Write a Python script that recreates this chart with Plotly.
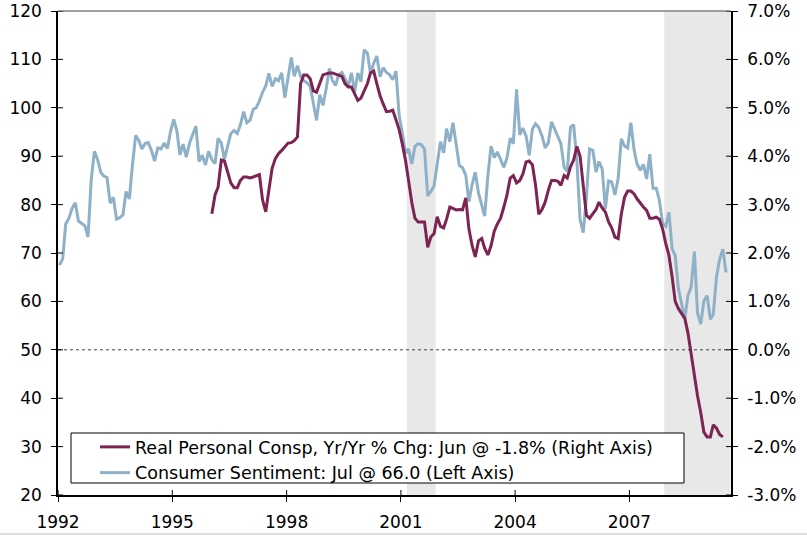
import plotly.graph_objects as go

# ---------------- data ----------------
sent_start = (1992, 1)
sentiment = [
    67.5, 68.8, 76.0, 77.2, 79.2, 80.4, 76.6, 76.1, 75.6, 73.3, 85.3, 91.0,
    89.3, 86.6, 85.9, 85.6, 80.3, 81.5, 77.0, 77.3, 77.9, 82.7, 81.2, 88.2,
    94.3, 93.2, 91.5, 92.6, 92.8, 91.2, 89.0, 91.7, 91.5, 92.7, 91.6, 95.1,
    97.6, 95.1, 90.3, 92.5, 89.8, 92.7, 94.4, 96.2, 88.9, 90.2, 88.2, 91.0,
    89.3, 88.5, 93.7, 92.7, 89.4, 92.4, 94.7, 95.3, 94.7, 96.5, 99.2, 96.9,
    97.4, 99.7, 100.0, 101.4, 103.2, 104.5, 107.1, 104.4, 106.0, 105.6, 107.2, 102.1,
    106.6, 110.4, 106.5, 108.7, 106.5, 105.6, 105.2, 104.4, 100.9, 97.4, 102.7, 100.5,
    103.9, 108.1, 105.7, 104.6, 106.8, 107.3, 106.0, 104.5, 107.2, 103.2, 107.2, 105.4,
    112.0, 111.3, 107.1, 109.2, 110.7, 106.4, 108.3, 107.3, 106.8, 105.8, 107.6, 98.4,
    94.7, 90.6, 91.5, 88.4, 92.0, 92.6, 92.4, 91.5, 81.8, 82.7, 83.9, 88.8,
    93.0, 90.7, 95.7, 93.0, 96.9, 92.4, 88.1, 87.6, 86.1, 80.6, 84.2, 86.7,
    82.4, 79.9, 77.6, 86.0, 92.1, 89.7, 90.9, 89.3, 87.7, 89.6, 93.7, 92.6,
    103.8, 94.4, 95.8, 94.2, 90.2, 95.6, 96.7, 95.9, 94.2, 91.7, 92.8, 97.1,
    95.5, 94.1, 92.6, 87.7, 86.9, 96.0, 96.5, 89.1, 76.9, 74.2, 81.6, 91.5,
    91.2, 86.7, 88.9, 87.4, 79.1, 84.9, 84.7, 82.0, 85.4, 93.6, 92.1, 91.7,
    96.9, 91.3, 88.4, 87.1, 88.3, 85.3, 90.4, 83.4, 83.4, 80.9, 76.1, 75.5,
    78.4, 70.8, 69.5, 62.6, 59.8, 56.4, 61.2, 63.0, 70.3, 57.6, 55.3, 60.1,
    61.2, 56.3, 57.3, 65.1, 68.7, 70.8, 66.0,
]

pce_start = (1996, 1)
pce_yoy = [
    2.81, 3.20, 3.36, 3.92, 3.90, 3.65, 3.45, 3.35, 3.35, 3.50, 3.57, 3.57,
    3.55, 3.57, 3.60, 3.62, 3.10, 2.85, 3.30, 3.75, 3.95, 4.05, 4.12, 4.20,
    4.27, 4.28, 4.32, 4.40, 5.50, 5.68, 5.68, 5.60, 5.35, 5.32, 5.50, 5.68,
    5.70, 5.72, 5.72, 5.70, 5.68, 5.65, 5.50, 5.43, 5.43, 5.30, 5.15, 5.20,
    5.35, 5.50, 5.72, 5.76, 5.50, 5.25, 5.08, 4.92, 4.93, 4.95, 4.75, 4.55,
    4.25, 3.90, 3.50, 3.05, 2.72, 2.64, 2.64, 2.64, 2.12, 2.33, 2.40, 2.75,
    2.55, 2.52, 2.70, 2.95, 2.92, 2.89, 2.90, 2.89, 3.14, 2.50, 2.15, 1.92,
    2.25, 2.30, 2.10, 1.96, 2.15, 2.45, 2.60, 2.72, 2.95, 3.20, 3.55, 3.60,
    3.45, 3.50, 3.63, 3.88, 3.90, 3.82, 3.40, 2.80, 2.90, 3.05, 3.30, 3.50,
    3.50, 3.48, 3.40, 3.60, 3.55, 3.78, 3.92, 4.20, 4.00, 3.40, 2.78, 2.72,
    2.80, 2.90, 3.05, 2.93, 2.85, 2.64, 2.52, 2.33, 2.30, 2.80, 3.15, 3.28,
    3.28, 3.22, 3.12, 3.02, 2.95, 2.88, 2.72, 2.72, 2.74, 2.70, 2.50, 2.20,
    1.95, 1.50, 1.00, 0.85, 0.75, 0.65, 0.35, -0.10, -0.55, -0.95, -1.30, -1.70,
    -1.80, -1.80, -1.55, -1.62, -1.75, -1.80,
]

recessions = [("2001-03-01", "2001-11-30"), ("2007-12-01", "2009-08-28")]
x_ticks = ["1992-01-01", "1995-01-01", "1998-01-01", "2001-01-01", "2004-01-01", "2007-01-01"]
x_ticktext = ["1992", "1995", "1998", "2001", "2004", "2007"]
left_ticks = [20, 30, 40, 50, 60, 70, 80, 90, 100, 110, 120]
right_ticks = [-3, -2, -1, 0, 1, 2, 3, 4, 5, 6, 7]
right_ticktext = [f"{v:.1f}%" for v in right_ticks]

name_pce = "Real Personal Consp, Yr/Yr % Chg: Jun @ -1.8% (Right Axis)"
name_sent = "Consumer Sentiment: Jul @ 66.0 (Left Axis)"


def month_dates(start, n):
    y, m = start
    out = []
    for i in range(n):
        mm = m - 1 + i
        out.append(f"{y + mm // 12:04d}-{mm % 12 + 1:02d}-15")
    return out


sent_x = month_dates(sent_start, len(sentiment))
pce_x = month_dates(pce_start, len(pce_yoy))

MAROON = "#7D2452"
BLUE = "#8EB1C8"
FONT = "DejaVu Sans, Verdana, sans-serif"

W, H = 807, 535
L, R, T, B = 58, 76, 11, 40
PW, PH = W - L - R, H - T - B


def px_x(p):
    return (p - L) / PW


def px_y(p):
    return (H - B - p) / PH


fig = go.Figure()

fig.add_trace(go.Scatter(x=pce_x, y=pce_yoy, name=name_pce, yaxis="y2",
                         mode="lines", line=dict(color=MAROON, width=3),
                         legendrank=1))
fig.add_trace(go.Scatter(x=sent_x, y=sentiment, name=name_sent, yaxis="y",
                         mode="lines", line=dict(color=BLUE, width=3),
                         legendrank=2))

shapes = []
for a, b in recessions:
    shapes.append(dict(type="rect", xref="x", yref="paper", x0=a, x1=b, y0=0, y1=1,
                       fillcolor="#E8E8E8", line=dict(width=0), layer="below"))
# zero line
shapes.append(dict(type="line", xref="paper", yref="y", x0=0, x1=1, y0=50, y1=50,
                   line=dict(color="#444444", width=1, dash="dot"), layer="above"))
# top border
shapes.append(dict(type="line", xref="paper", yref="paper", x0=0, x1=1, y0=1, y1=1,
                   line=dict(color="#808080", width=1.5)))
# inner parts of crossing ticks
tl = 5
for t in x_ticks:
    shapes.append(dict(type="line", xref="x", yref="paper", x0=t, x1=t,
                       y0=0, y1=tl / PH, line=dict(color="black", width=1)))
for v in left_ticks:
    shapes.append(dict(type="line", xref="paper", yref="y", x0=0, x1=tl / PW,
                       y0=v, y1=v, line=dict(color="black", width=1)))
for v in right_ticks:
    shapes.append(dict(type="line", xref="paper", yref="y2", x0=1 - tl / PW, x1=1,
                       y0=v, y1=v, line=dict(color="black", width=1)))
# legend box
shapes.append(dict(type="rect", xref="paper", yref="paper",
                   x0=px_x(71), x1=px_x(684), y0=px_y(483), y1=px_y(433),
                   fillcolor="white", line=dict(color="black", width=1), layer="above"))
# bottom frame line of the image
shapes.append(dict(type="line", xref="paper", yref="paper", x0=px_x(0), x1=px_x(W),
                   y0=px_y(534), y1=px_y(534), line=dict(color="#BBBBBB", width=1)))

fig.update_layout(
    width=W, height=H,
    margin=dict(l=L, r=R, t=T, b=B, autoexpand=False),
    paper_bgcolor="white", plot_bgcolor="white",
    font=dict(family=FONT, size=17, color="black"),
    showlegend=True,
    legend=dict(x=px_x(95), y=px_y(429), xanchor="left", yanchor="top",
                bgcolor="rgba(0,0,0,0)", borderwidth=0,
                font=dict(family=FONT, size=17.5, color="black"),
                traceorder="normal", tracegroupgap=0),
    xaxis=dict(type="date", range=["1992-01-01", "2009-09-01"],
               tickvals=x_ticks, ticktext=x_ticktext, automargin=False,
               ticklabeloverflow="allow",
               showline=True, linecolor="black", linewidth=1.5,
               ticks="outside", ticklen=tl, tickcolor="black",
               showgrid=False, zeroline=False, ticklabelstandoff=6),
    yaxis=dict(range=[20, 120], tickvals=left_ticks, automargin=False,
               ticklabeloverflow="allow",
               showline=True, linecolor="black", linewidth=1.5,
               ticks="outside", ticklen=tl, tickcolor="black",
               showgrid=False, zeroline=False, ticklabelstandoff=6),
    yaxis2=dict(range=[-3, 7], tickvals=right_ticks, ticktext=right_ticktext,
                overlaying="y", side="right", automargin=False,
                ticklabeloverflow="allow",
                showline=True, linecolor="black", linewidth=1.5,
                ticks="outside", ticklen=tl, tickcolor="black",
                showgrid=False, zeroline=False, ticklabelstandoff=6),
    shapes=shapes,
)

fig.write_html("out.html",
               config={"displayModeBar": False},
               post_script="document.body.style.margin='0';document.body.style.overflow='hidden';")
